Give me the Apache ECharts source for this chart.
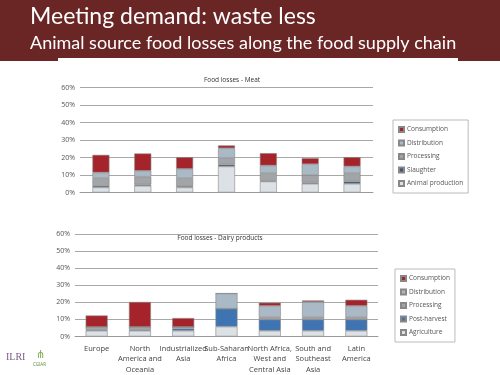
<!DOCTYPE html>
<html>
<head>
<meta charset="utf-8">
<script src="https://cdn.jsdelivr.net/npm/echarts@6/dist/echarts.min.js"></script>
<style>
  html, body { margin: 0; padding: 0; background: #fff; }
  #chart { width: 500px; height: 375px; }
</style>
</head>
<body>
<div id="chart"></div>
<script>
// --- datos ---
const regions = ['Europe', 'North\nAmerica and\nOceania', 'Industrialized\nAsia', 'Sub-Saharan\nAfrica',
    'North Africa,\nWest and\nCentral Asia', 'South and\nSoutheast\nAsia', 'Latin\nAmerica'];
const yTicks = [0, 10, 20, 30, 40, 50, 60];

// carne (%)
const meatAnimal       = [2.9, 3.8, 2.9, 14.9, 6.3, 5.0, 5.0];
const meatSlaughter    = [0.9, 0.8, 0.7, 1.1, 0.4, 0.7, 1.3];
const meatProcessing   = [4.4, 4.4, 4.6, 3.6, 4.3, 4.2, 4.7];
const meatDistribution = [3.2, 3.4, 5.3, 5.7, 4.4, 6.3, 3.9];
const meatConsumption  = [10.1, 9.9, 6.7, 1.6, 7.1, 3.4, 5.3];

// lácteos (%)
const dairyAgriculture  = [3.4, 3.4, 3.4, 5.8, 3.4, 3.4, 3.4];
const dairyPostHarvest  = [0.5, 0.5, 1.3, 10.5, 6.5, 6.5, 6.5];
const dairyProcessing   = [1.7, 1.7, 0.9, 0, 1.5, 1.5, 1.5];
const dairyDistribution = [0, 0, 0, 8.9, 6.5, 8.8, 6.5];
const dairyConsumption  = [6.7, 14.6, 5.2, 0, 1.9, 0.9, 3.6];

// Paleta
const c = {
    consumption: '#A5242C',
    distribution: '#A9B9C6',
    processing: '#A3A4A8',
    slaughter: '#3F5573',
    postHarvest: '#3F74B3',
    base: '#DCE1E5'
};

const fontFam = '"Open Sans", "DejaVu Sans", sans-serif';

function yAxis(gi) {
    return {
        type: 'value', gridIndex: gi, min: yTicks[0], max: yTicks[yTicks.length - 1], interval: 10,
        axisLine: { show: false },
        axisTick: { show: false },
        splitLine: { lineStyle: { color: '#A8A8A8', width: 1 } },
        axisLabel: { formatter: '{value}%', color: '#555', fontSize: 7, fontFamily: fontFam, margin: 5 }
    };
}

function bar(name, data, color, gi, width) {
    return {
        name: name, type: 'bar', stack: 's' + gi, data: data,
        xAxisIndex: gi, yAxisIndex: gi, barWidth: width,
        itemStyle: { color: color, borderColor: '#888', borderWidth: 0.6 },
        emphasis: { disabled: true }
    };
}

const legendStyle = {
    orient: 'vertical',
    itemWidth: 5, itemHeight: 5, itemGap: 6.5,
    icon: 'rect',
    borderColor: '#BBB', borderWidth: 1,
    padding: [6, 5, 6, 5],
    textStyle: { fontSize: 6.5, color: '#555', fontFamily: fontFam, padding: [0, 0, 0, -2] }
};

var chart = echarts.init(document.getElementById('chart'));
chart.setOption({
    animation: false,
    backgroundColor: '#fff',
    graphic: [
        { type: 'rect', shape: { x: 0, y: 0, width: 500, height: 61 }, style: { fill: '#6A2525' }, z: -10 },
        { type: 'rect', shape: { x: 58, y: 58, width: 400, height: 10 }, style: { fill: '#fff' }, z: -9 },
        { type: 'text', left: 30, top: 5, style: { text: 'Meeting demand: waste less', fill: '#fff', fontSize: 23, fontFamily: 'Lato, "Open Sans", sans-serif' } },
        { type: 'text', left: 30, top: 34, style: { text: 'Animal source food losses along the food supply chain', fill: '#fff', fontSize: 18, fontFamily: 'Lato, "Open Sans", sans-serif' } },
        { type: 'text', left: 6, top: 352, style: { text: 'ILRI', fill: '#7A5A8A', fontSize: 10, fontFamily: '"Liberation Serif", serif' } },
        { type: 'text', left: 33, top: 362, style: { text: 'CGIAR', fill: '#5C8A3A', fontSize: 4.5, fontFamily: fontFam } },
        { type: 'text', left: 36, top: 349, style: { text: '⋔', fill: '#7DAA4E', fontSize: 11 } }
    ],
    title: [
        { text: 'Food losses - Meat', left: 227, top: 72, textAlign: 'center',
          textStyle: { fontSize: 6.5, fontWeight: 'normal', color: '#333', fontFamily: fontFam } },
        { text: 'Food losses - Dairy products', left: 215, top: 230, textAlign: 'center',
          textStyle: { fontSize: 6.5, fontWeight: 'normal', color: '#333', fontFamily: fontFam } }
    ],
    legend: [
        Object.assign({ left: 393, top: 120,
            data: ['Consumption', 'Distribution', 'Processing', 'Slaughter', 'Animal production'] }, legendStyle),
        Object.assign({ left: 395, top: 269,
            data: ['Consumption', 'Distribution', 'Processing', 'Post-harvest', 'Agriculture'] }, legendStyle)
    ],
    grid: [
        { left: 80, top: 87.5, width: 293, height: 105 },
        { left: 75, top: 234, width: 303, height: 107 }
    ],
    xAxis: [
        { type: 'category', gridIndex: 0, data: regions,
          axisLine: { lineStyle: { color: '#999' } },
          axisTick: { length: 3, lineStyle: { color: '#999' } },
          axisLabel: { show: false } },
        { type: 'category', gridIndex: 1, data: regions,
          axisLine: { lineStyle: { color: '#999' } },
          axisTick: { length: 3, lineStyle: { color: '#999' } },
          axisLabel: { color: '#444', fontSize: 7.5, lineHeight: 10.5, fontFamily: fontFam, interval: 0, margin: 7 } }
    ],
    yAxis: [yAxis(0), yAxis(1)],
    series: [
        bar('Animal production', meatAnimal, c.base, 0, 17),
        bar('Slaughter', meatSlaughter, c.slaughter, 0, 17),
        bar('Processing', meatProcessing, c.processing, 0, 17),
        bar('Distribution', meatDistribution, c.distribution, 0, 17),
        bar('Consumption', meatConsumption, c.consumption, 0, 17),
        bar('Agriculture', dairyAgriculture, c.base, 1, 22),
        bar('Post-harvest', dairyPostHarvest, c.postHarvest, 1, 22),
        bar('Processing', dairyProcessing, c.processing, 1, 22),
        bar('Distribution', dairyDistribution, c.distribution, 1, 22),
        bar('Consumption', dairyConsumption, c.consumption, 1, 22)
    ]
});

window.addEventListener('resize', () => chart.resize());
</script>
</body>
</html>
